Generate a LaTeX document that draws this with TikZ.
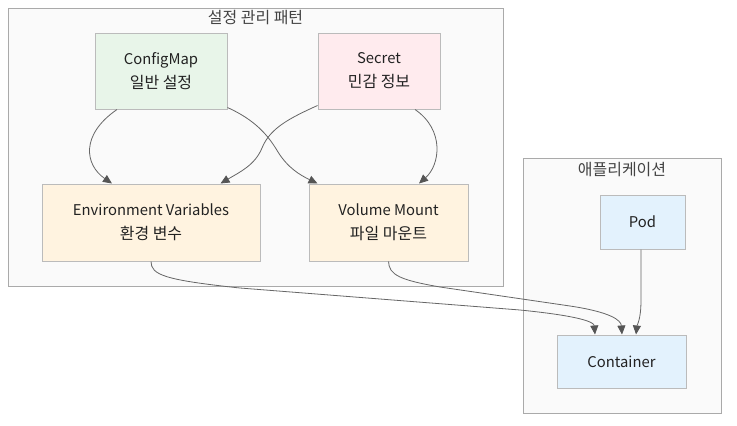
\documentclass[tikz,border=0pt]{standalone}
\usepackage{fontspec}
\setmainfont{Noto Sans CJK KR}
\newfontfamily\kr[Scale=1.08]{Noto Sans CJK KR}
\usetikzlibrary{arrows.meta,calc}
\definecolor{clfill}{HTML}{FAFAFA}
\definecolor{clline}{HTML}{AAAAAA}
\definecolor{ndline}{HTML}{BBBBBB}
\definecolor{edgec}{HTML}{666666}
\definecolor{tipc}{HTML}{555555}
\definecolor{txt}{HTML}{222222}
\definecolor{cmfill}{HTML}{E8F5E9}
\definecolor{scfill}{HTML}{FFEBEE}
\definecolor{orfill}{HTML}{FFF3E0}
\definecolor{blfill}{HTML}{E3F2FD}
\tikzset{
  cluster/.style={draw=clline, fill=clfill, line width=1pt},
  cltitle/.style={text=txt!85, font=\kr\fontsize{14.8}{16}\selectfont, inner sep=0pt},
  box/.style={draw=ndline, line width=1pt, align=center, text=txt, inner sep=0pt,
    font=\fontsize{14.8}{24}\selectfont},
  edge/.style={draw=edgec, line width=0.8pt, -{Triangle[length=9pt,width=8pt,color=tipc]}},
}
\begin{document}
\begin{tikzpicture}[x=1pt,y=-1pt]
\useasboundingbox (0,0) rectangle (737,426);
\fill[white] (0,0) rectangle (737,426);
% clusters
\node[cluster, minimum width=495pt, minimum height=278pt, inner sep=0pt] (cl1) at (255.5,147) {};
\node[cltitle] (cl1t) at (255.5,18) {설정 관리 패턴};
\node[cluster, minimum width=198pt, minimum height=255pt, inner sep=0pt] (cl2) at (622,285.5) {};
\node[cltitle] (cl2t) at (622,170) {애플리케이션};
% nodes
\node[box, fill=cmfill, minimum width=132pt, minimum height=76pt] (cm) at (161,71) {ConfigMap\\{\kr 일반 설정}};
\node[box, fill=scfill, minimum width=122pt, minimum height=76pt] (sc) at (379,71) {Secret\\{\kr 민감 정보}};
\node[box, fill=orfill, minimum width=218pt, minimum height=77pt] (env) at (151,222.5) {Environment Variables\\{\kr 환경 변수}};
\node[box, fill=orfill, minimum width=159pt, minimum height=77pt] (vm) at (388.5,222.5) {Volume Mount\\{\kr 파일 마운트}};
\node[box, fill=blfill, minimum width=85pt, minimum height=54pt] (pod) at (642.5,222) {Pod};
\node[box, fill=blfill, minimum width=129pt, minimum height=53pt] (ct) at (621.5,361.5) {Container};
% edges
\draw[edge] ($(cm.south)+(-44,0)$) .. controls (80,135) and (85,165) .. ($(env.north)+(-39,0)$);
\draw[edge] ($(cm.south east)+(0,-2)$) .. controls (255,120) and (268,135) .. (278,152)
   .. controls (288,168) and (300,175) .. ($(vm.north west)+(9,0)$);
\draw[edge] ($(sc.south west)+(0,-4)$) .. controls (290,118) and (270,128) .. (262,148)
   .. controls (255,165) and (240,172) .. ($(env.north east)+(-40,0)$);
\draw[edge] ($(sc.south)+(36,0)$) .. controls (445,130) and (440,165) .. ($(vm.north)+(30.5,0)$);
\draw[edge] (env.south) .. controls (151,275) and (165,280) .. (240,288) -- (520,310)
   .. controls (580,316) and (594,322) .. ($(ct.north)+(-26.5,0)$);
\draw[edge] (vm.south) .. controls (389,275) and (400,280) .. (440,287) -- (570,306)
   .. controls (610,312) and (621,320) .. ($(ct.north)+(0.5,0)$);
\draw[edge] ($(pod.south)+(-1.5,0)$) -- (641,300) .. controls (641,320) and (637,325) .. ($(ct.north)+(14.5,0)$);
\end{tikzpicture}
\end{document}
